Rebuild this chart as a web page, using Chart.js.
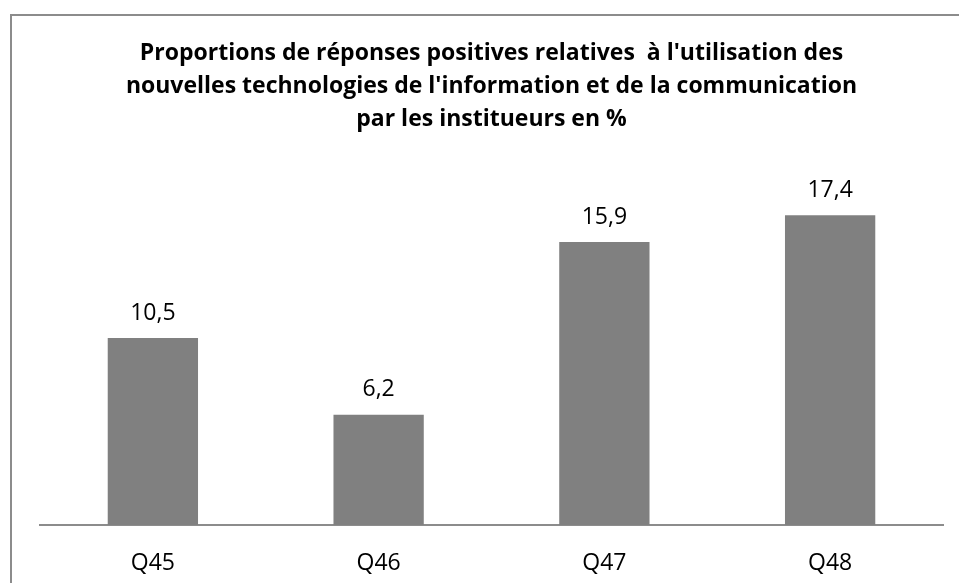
<!DOCTYPE html>
<html>
<head>
<meta charset="utf-8">
<script src="https://cdn.jsdelivr.net/npm/chart.js@4"></script>
<style>
  html, body { margin: 0; padding: 0; background: #fff; }
  #wrap { position: relative; width: 959px; height: 583px; overflow: hidden; }
  #frame { position: absolute; left: 10px; top: 14px; width: 1000px; height: 700px;
           border-left: 2px solid #8c8c8c; border-top: 2px solid #8c8c8c; }
  #chart { position: absolute; left: 0; top: 0; }
</style>
</head>
<body>
<div id="wrap">
  <div id="frame"></div>
  <canvas id="chart" width="959" height="583"></canvas>
</div>
<script>
const titleLines = [
  "Proportions de réponses positives relatives  à l'utilisation des",
  "nouvelles technologies de l'information et de la communication",
  "par les institueurs en %"
];
const categories = ['Q45', 'Q46', 'Q47', 'Q48'];
const values = [10.5, 6.2, 15.9, 17.4];

const fontFamily = "'Open Sans', 'Noto Sans', sans-serif";

// draws the value above each bar, with a comma as decimal mark
const valueLabels = {
  id: 'valueLabels',
  afterDatasetsDraw(chart) {
    const ctx = chart.ctx;
    const meta = chart.getDatasetMeta(0);
    ctx.save();
    ctx.font = '23px ' + fontFamily;
    ctx.fillStyle = '#000';
    ctx.textAlign = 'center';
    ctx.textBaseline = 'middle';
    meta.data.forEach((bar, i) => {
      ctx.fillText(String(values[i]).replace('.', ','), bar.x, bar.y - 25);
    });
    ctx.restore();
  }
};

new Chart(document.getElementById('chart'), {
  type: 'bar',
  data: {
    labels: categories,
    datasets: [{
      data: values,
      backgroundColor: '#808080',
      borderWidth: 0,
      categoryPercentage: 1,
      barPercentage: 0.4
    }]
  },
  options: {
    responsive: false,
    animation: false,
    layout: { padding: { left: 40, right: 16, top: 0, bottom: 0 } },
    plugins: {
      legend: { display: false },
      tooltip: { enabled: false },
      title: {
        display: true,
        text: titleLines,
        color: '#000',
        font: { family: fontFamily, size: 23, weight: 'bold', lineHeight: 1.435 },
        padding: { top: 37, bottom: 33 }
      }
    },
    scales: {
      y: { display: false, min: 0, max: 20 },
      x: {
        grid: { display: false, drawTicks: false },
        border: { display: true, color: '#8c8c8c', width: 2 },
        ticks: { color: '#000', padding: 25, font: { family: fontFamily, size: 23 } },
        afterFit(scale) { scale.height = 58; }
      }
    }
  },
  plugins: [valueLabels]
});
</script>
</body>
</html>
